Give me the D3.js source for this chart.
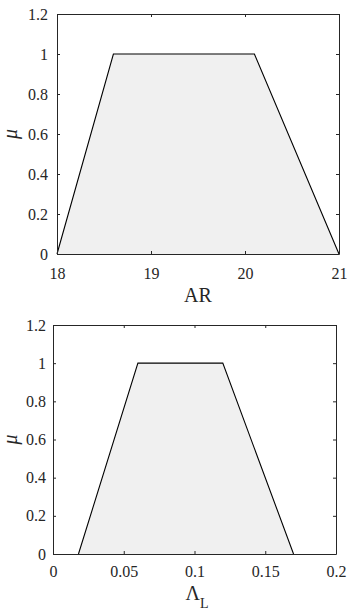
<!DOCTYPE html>
<html>
<head>
<meta charset="utf-8">
<script src="https://cdn.jsdelivr.net/npm/d3@7"></script>
<style>
  body { margin: 0; background: #fff; }
  svg { display: block; }
</style>
</head>
<body>
<div id="chart"></div>
<script>
// membership function data
const arX = [18, 18.6, 20.1, 21];
const arMu = [0, 1, 1, 0];
const arTicks = [18, 19, 20, 21];

const lamX = [0.018, 0.06, 0.12, 0.17];
const lamMu = [0, 1, 1, 0];
const lamTicks = [0, 0.05, 0.1, 0.15, 0.2];

const muTicks = [0, 0.2, 0.4, 0.6, 0.8, 1, 1.2];

const serif = "'Liberation Serif', 'Times New Roman', serif";
const ink = "#262626";

const svg = d3.select("#chart").append("svg")
    .attr("width", 347)
    .attr("height", 610);

function styleAxis(sel) {
    sel.attr("font-family", serif).attr("font-size", 16);
    sel.selectAll("text").attr("fill", ink);
    sel.selectAll("line").attr("stroke", ink);
    sel.select(".domain").attr("stroke", ink);
}

function drawPanel(opt) {
    const x = d3.scaleLinear().domain(opt.xDomain).range([opt.left, opt.right]);
    const y = d3.scaleLinear().domain([0, 1.2]).range([opt.bottom, opt.top]);
    const g = svg.append("g");

    const pts = opt.xs.map((v, i) => [v, opt.mus[i]]);
    const area = d3.area()
        .x(d => x(d[0]))
        .y0(y(0))
        .y1(d => y(d[1]));
    g.append("path")
        .datum(pts)
        .attr("d", area)
        .attr("fill", "#f0f0f0");
    g.append("path")
        .datum(pts)
        .attr("d", d3.line().x(d => x(d[0])).y(d => y(d[1])))
        .attr("fill", "none")
        .attr("stroke", "#000")
        .attr("stroke-width", 1.1);

    // axes, ticks pointing inward on all sides
    g.append("g")
        .attr("transform", `translate(0,${opt.bottom})`)
        .call(d3.axisBottom(x).tickValues(opt.xTicks).tickFormat(d => String(d))
            .tickSizeInner(-3).tickSizeOuter(0).tickPadding(opt.xPad))
        .call(styleAxis);
    g.append("g")
        .attr("transform", `translate(0,${opt.top})`)
        .call(d3.axisTop(x).tickValues(opt.xTicks).tickFormat("")
            .tickSizeInner(-3).tickSizeOuter(0))
        .call(styleAxis);
    g.append("g")
        .attr("transform", `translate(${opt.left},0)`)
        .call(d3.axisLeft(y).tickValues(muTicks).tickFormat(d => String(d))
            .tickSizeInner(-3).tickSizeOuter(0).tickPadding(opt.yPad))
        .call(styleAxis);
    g.append("g")
        .attr("transform", `translate(${opt.right},0)`)
        .call(d3.axisRight(y).tickValues(muTicks).tickFormat("")
            .tickSizeInner(-3).tickSizeOuter(0))
        .call(styleAxis);

    // mu label
    g.append("text")
        .attr("transform", `translate(${opt.muX},${(opt.top + opt.bottom) / 2}) rotate(-90)`)
        .attr("text-anchor", "middle")
        .attr("font-family", serif)
        .attr("font-style", "italic")
        .attr("font-size", 20)
        .attr("fill", ink)
        .text("\u03bc");

    return { x, y, g };
}

const p1 = drawPanel({
    xs: arX, mus: arMu, xDomain: [18, 21], xTicks: arTicks,
    left: 57, right: 339, top: 14, bottom: 254, xPad: 14, yPad: 9, muX: 17
});
p1.g.append("text")
    .attr("x", 198).attr("y", 302)
    .attr("text-anchor", "middle")
    .attr("font-family", serif)
    .attr("font-size", 20)
    .attr("fill", ink)
    .text("AR");

const p2 = drawPanel({
    xs: lamX, mus: lamMu, xDomain: [0, 0.2], xTicks: lamTicks,
    left: 53, right: 336, top: 325, bottom: 554, xPad: 12, yPad: 7, muX: 17
});
const lab = p2.g.append("text")
    .attr("x", 197).attr("y", 600)
    .attr("text-anchor", "middle")
    .attr("font-family", serif)
    .attr("font-size", 20)
    .attr("fill", ink);
lab.append("tspan").text("\u039b");
lab.append("tspan").attr("dy", 8).attr("font-size", 14).text("L");
</script>
</body>
</html>
